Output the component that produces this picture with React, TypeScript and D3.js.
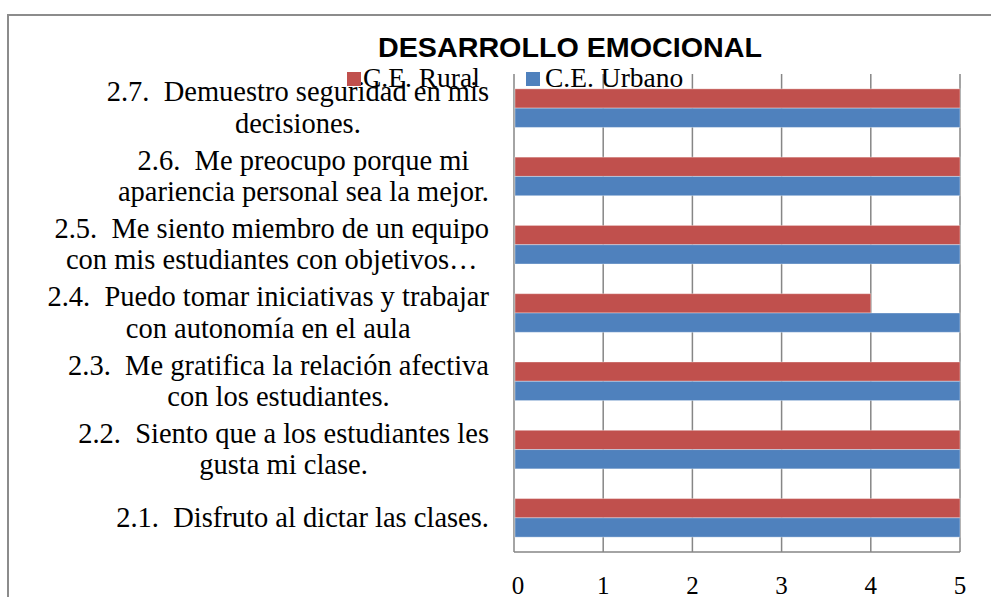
import React, { useEffect, useRef } from "react";
import * as d3 from "d3";

const title = "DESARROLLO EMOCIONAL";
const categories = ["2.7", "2.6", "2.5", "2.4", "2.3", "2.2", "2.1"];
const categoryLines: string[][] = [
  ["2.7.  Demuestro seguridad en mis", "decisiones."],
  ["2.6.  Me preocupo porque mi", "apariencia personal sea la mejor."],
  ["2.5.  Me siento miembro de un equipo", "con mis estudiantes con objetivos…"],
  ["2.4.  Puedo tomar iniciativas y trabajar", "con autonomía en el aula"],
  ["2.3.  Me gratifica la relación afectiva", "con los estudiantes."],
  ["2.2.  Siento que a los estudiantes les", "gusta mi clase."],
  ["2.1.  Disfruto al dictar las clases."],
];
const seriesNames = ["C.E. Rural", "C.E. Urbano"];
const seriesColors = ["#C0504D", "#4F81BD"];
const ruralValues = [5, 5, 5, 4, 5, 5, 5];
const urbanoValues = [5, 5, 5, 5, 5, 5, 5];
const xTicks = [0, 1, 2, 3, 4, 5];

const W = 991;
const H = 597;
const plot = { left: 514, right: 960, top: 74, bottom: 552 };

export default function App() {
  const labelsRef = useRef<SVGGElement>(null);

  const x = d3.scaleLinear().domain([0, 5]).range([plot.left, plot.right]);
  const y = d3
    .scaleBand<string>()
    .domain(categories)
    .range([plot.top, plot.bottom])
    .paddingInner(0.435)
    .paddingOuter(0.2175);
  const ySub = d3.scaleBand<string>().domain(seriesNames).range([0, y.bandwidth()]);
  const seriesValues = [ruralValues, urbanoValues];

  useEffect(() => {
    const g = d3.select(labelsRef.current);
    g.selectAll("*").remove();
    const rightEdge = 489;
    const lineH = 31.5;
    categories.forEach((c, i) => {
      const lines = categoryLines[i];
      const cy = (y(c) as number) + y.bandwidth() / 2;
      const t = g
        .append("text")
        .attr("font-family", "'Liberation Serif', serif")
        .attr("font-size", 28.5)
        .attr("fill", "#000")
        .attr("text-anchor", "middle")
        .attr("xml:space", "preserve")
        .style("white-space", "pre");
      const spans = lines.map((ln, k) =>
        t
          .append("tspan")
          .attr("y", cy - ((lines.length - 1) * lineH) / 2 + k * lineH + 9)
          .text(ln)
      );
      let maxW = 0;
      spans.forEach((s) => {
        const w = (s.node() as SVGTSpanElement).getComputedTextLength();
        if (w > maxW) maxW = w;
      });
      spans.forEach((s) => s.attr("x", rightEdge - maxW / 2));
    });
  }, []);

  return (
    <svg
      width={W}
      height={H}
      style={{ position: "absolute", left: 0, top: 0, display: "block", background: "#fff" }}
    >
      <rect x={0} y={0} width={W} height={H} fill="#fff" />
      {/* outer chart border */}
      <rect x={8} y={15} width={1200} height={800} fill="none" stroke="#8c8c8c" strokeWidth={2} />

      {/* gridlines */}
      {xTicks.map((t) => (
        <line
          key={"g" + t}
          x1={x(t)}
          x2={x(t)}
          y1={plot.top}
          y2={plot.bottom}
          stroke="#868686"
          strokeWidth={1.5}
        />
      ))}
      <line x1={plot.left} x2={plot.right} y1={plot.bottom} y2={plot.bottom} stroke="#868686" strokeWidth={1.5} />

      {/* bars */}
      {categories.map((c, i) =>
        seriesNames.map((s, k) => (
          <rect
            key={c + s}
            x={x(0) + 1}
            y={(y(c) as number) + (ySub(s) as number)}
            width={x(seriesValues[k][i]) - x(0) - 1}
            height={ySub.bandwidth()}
            fill={seriesColors[k]}
            stroke="rgba(255,255,255,0.35)"
            strokeWidth={1}
          />
        ))
      )}

      {/* x tick labels */}
      {xTicks.map((t) => (
        <text
          key={"t" + t}
          x={x(t) + (t === 0 ? 4 : 0)}
          y={594}
          textAnchor="middle"
          fontFamily="'Liberation Serif', serif"
          fontSize={25}
          fill="#000"
        >
          {t}
        </text>
      ))}

      {/* category labels */}
      <g ref={labelsRef} />

      {/* title */}
      <text
        x={570}
        y={57}
        textAnchor="middle"
        fontFamily="'Liberation Sans', Arial, sans-serif"
        fontWeight="bold"
        fontSize={28}
        textLength={384}
        lengthAdjust="spacingAndGlyphs"
        fill="#000"
      >
        {title}
      </text>

      {/* legend */}
      <rect x={347} y={72} width={14} height={14} fill={seriesColors[0]} />
      <text x={363} y={87} fontFamily="'Liberation Serif', serif" fontSize={27.5} fill="#000">
        {seriesNames[0]}
      </text>
      <rect x={526} y={72} width={14} height={14} fill={seriesColors[1]} />
      <text x={545} y={87} fontFamily="'Liberation Serif', serif" fontSize={27.5} fill="#000">
        {seriesNames[1]}
      </text>
    </svg>
  );
}
